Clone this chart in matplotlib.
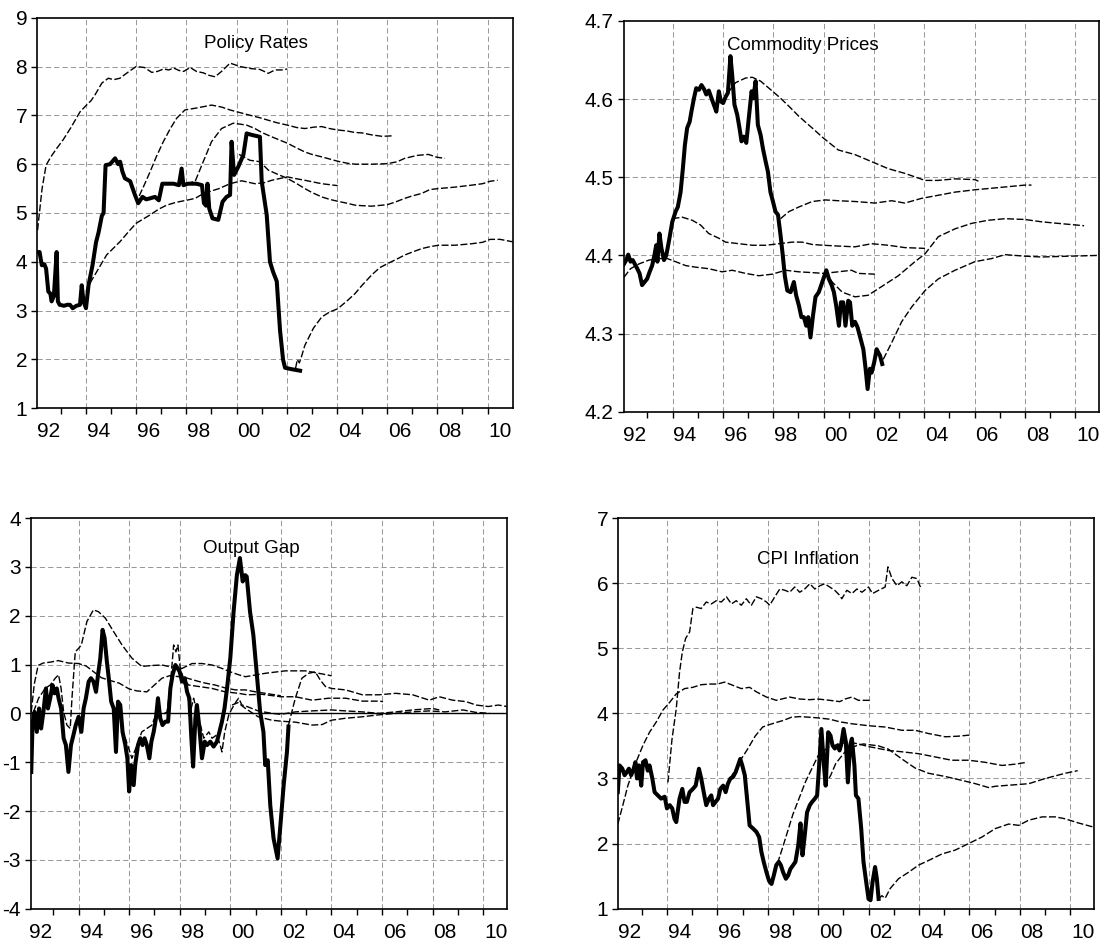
import matplotlib
matplotlib.use("Agg")
import matplotlib.pyplot as plt

plt.rcParams['font.family'] = ['Liberation Sans', 'DejaVu Sans']
plt.rcParams['axes.unicode_minus'] = False

# ---------------------------------------------------------------- data
year_labels = ["92", "94", "96", "98", "00", "02", "04", "06", "08", "10"]

# ---- Policy Rates
policy_actual = [
    (1992.05, 4.2), (1992.15, 4.2), (1992.24, 3.93), (1992.34, 3.95), (1992.41, 3.86), (1992.50, 3.39), (1992.58, 3.35),
    (1992.63, 3.19), (1992.72, 3.3), (1992.83, 4.2), (1992.88, 3.19), (1992.95, 3.12), (1993.12, 3.1), (1993.26, 3.12),
    (1993.36, 3.12), (1993.47, 3.05), (1993.62, 3.1), (1993.76, 3.12), (1993.83, 3.52), (1993.90, 3.19), (1994.00, 3.05),
    (1994.10, 3.52), (1994.26, 3.93), (1994.40, 4.4), (1994.50, 4.6), (1994.63, 4.94), (1994.70, 5.0), (1994.78, 5.98),
    (1994.96, 6.0), (1995.16, 6.12), (1995.28, 6.0), (1995.36, 6.05), (1995.45, 5.85), (1995.55, 5.71), (1995.76, 5.65),
    (1995.95, 5.37), (1996.08, 5.2), (1996.25, 5.33), (1996.40, 5.28), (1996.55, 5.3), (1996.75, 5.33), (1996.90, 5.26),
    (1997.04, 5.6), (1997.25, 5.6), (1997.49, 5.6), (1997.70, 5.57), (1997.81, 5.91), (1997.88, 5.57), (1998.07, 5.6),
    (1998.40, 5.6), (1998.62, 5.57), (1998.70, 5.2), (1998.78, 5.15), (1998.84, 5.6), (1998.91, 5.09), (1999.04, 4.89),
    (1999.27, 4.86), (1999.44, 5.23), (1999.60, 5.33), (1999.74, 5.37), (1999.80, 6.46), (1999.90, 5.78), (2000.07, 5.95),
    (2000.27, 6.19), (2000.40, 6.63), (2000.60, 6.6), (2000.93, 6.56), (2001.00, 5.65), (2001.20, 4.96), (2001.33, 4.0),
    (2001.45, 3.8), (2001.60, 3.6), (2001.73, 2.6), (2001.85, 2.0), (2001.93, 1.83), (2002.20, 1.8), (2002.53, 1.77)]
policy_fc_1992 = [
    (1992.07, 4.65), (1992.25, 5.5), (1992.41, 5.98), (1992.60, 6.15), (1992.83, 6.32), (1993.09, 6.5), (1993.40, 6.75),
    (1993.76, 7.07), (1994.00, 7.2), (1994.20, 7.3), (1994.36, 7.42), (1994.63, 7.66), (1994.89, 7.76), (1995.10, 7.73),
    (1995.35, 7.76), (1995.69, 7.89), (1996.00, 8.0), (1996.33, 7.98), (1996.62, 7.88), (1996.85, 7.9), (1997.09, 7.95),
    (1997.30, 7.93), (1997.49, 7.97), (1997.70, 7.92), (1997.89, 7.9), (1998.15, 7.98), (1998.40, 7.9), (1998.68, 7.87),
    (1998.90, 7.82), (1999.14, 7.79), (1999.40, 7.9), (1999.74, 8.07), (2000.14, 8.0), (2000.54, 7.96), (2000.93, 7.94),
    (2001.10, 7.9), (2001.26, 7.86), (2001.53, 7.93), (2001.80, 7.93), (2002.02, 7.95)]
policy_fc_1994 = [
    (1994.00, 3.39), (1994.20, 3.6), (1994.43, 3.8), (1994.82, 4.14), (1995.35, 4.41), (1995.70, 4.62), (1996.00, 4.79),
    (1996.55, 4.96), (1996.90, 5.08), (1997.21, 5.16), (1997.60, 5.22), (1998.00, 5.26), (1998.35, 5.3), (1998.68, 5.4),
    (1999.30, 5.5), (1999.74, 5.6), (2000.20, 5.66), (2000.73, 5.6), (2001.10, 5.62), (2001.40, 5.67), (2002.02, 5.74),
    (2002.40, 5.7), (2002.72, 5.67), (2003.39, 5.6), (2004.03, 5.56)]
policy_fc_1996 = [
    (1996.12, 5.35), (1996.30, 5.55), (1996.55, 5.84), (1996.80, 6.15), (1997.08, 6.46), (1997.35, 6.72), (1997.61, 6.94),
    (1997.94, 7.11), (1998.40, 7.15), (1998.70, 7.18), (1999.00, 7.21), (1999.40, 7.17), (1999.74, 7.11), (2000.40, 7.02),
    (2000.93, 6.95), (2001.26, 6.9), (2001.60, 6.85), (2002.02, 6.8), (2002.40, 6.75), (2002.72, 6.73), (2003.10, 6.76),
    (2003.39, 6.77), (2003.70, 6.73), (2004.03, 6.7), (2004.40, 6.68), (2004.70, 6.65), (2005.00, 6.64), (2005.38, 6.6),
    (2005.80, 6.57), (2006.18, 6.58)]
policy_fc_1998 = [
    (1998.00, 5.6), (1998.35, 5.65), (1998.67, 6.05), (1999.00, 6.46), (1999.40, 6.73), (1999.87, 6.84), (2000.40, 6.8),
    (2000.73, 6.73), (2001.00, 6.65), (2001.40, 6.56), (2002.02, 6.43), (2002.40, 6.33), (2002.72, 6.25), (2003.00, 6.2),
    (2003.39, 6.15), (2004.03, 6.06), (2004.40, 6.02), (2004.72, 6.0), (2005.38, 6.0), (2006.00, 6.01), (2006.40, 6.05),
    (2006.70, 6.12), (2007.20, 6.18), (2007.64, 6.2), (2008.00, 6.14), (2008.30, 6.12)]
policy_fc_2000 = [
    (2000.10, 6.2), (2000.53, 6.08), (2000.93, 6.05), (2001.26, 5.88), (2001.60, 5.8), (2002.02, 5.71), (2002.40, 5.6),
    (2002.72, 5.5), (2003.00, 5.42), (2003.39, 5.33), (2003.70, 5.28), (2004.03, 5.24), (2004.40, 5.2), (2004.72, 5.16),
    (2005.00, 5.15), (2005.38, 5.14), (2006.00, 5.17), (2006.30, 5.22), (2006.70, 5.3), (2007.00, 5.35), (2007.37, 5.4),
    (2007.70, 5.48), (2008.04, 5.5), (2008.70, 5.53), (2009.36, 5.57), (2009.80, 5.6), (2010.10, 5.65), (2010.40, 5.67)]
policy_fc_2002 = [
    (2002.35, 1.82), (2002.42, 2.0), (2002.50, 1.93), (2002.58, 2.05), (2002.72, 2.29), (2003.06, 2.64), (2003.39, 2.87),
    (2003.70, 2.97), (2004.03, 3.04), (2004.40, 3.2), (2004.72, 3.35), (2005.00, 3.52), (2005.38, 3.73), (2005.70, 3.88),
    (2006.04, 3.97), (2006.40, 4.06), (2006.70, 4.14), (2007.00, 4.2), (2007.37, 4.27), (2007.70, 4.31), (2008.04, 4.34),
    (2008.70, 4.34), (2009.36, 4.37), (2009.80, 4.4), (2010.10, 4.46), (2010.50, 4.46), (2011.00, 4.41)]

# ---- Commodity Prices
commodity_actual = [
    (1992.07, 4.389), (1992.16, 4.394), (1992.24, 4.401), (1992.33, 4.392), (1992.42, 4.394), (1992.50, 4.389),
    (1992.60, 4.383), (1992.69, 4.377), (1992.79, 4.362), (1992.89, 4.366), (1992.99, 4.370), (1993.09, 4.379),
    (1993.19, 4.387), (1993.28, 4.400), (1993.35, 4.413), (1993.40, 4.392), (1993.48, 4.428), (1993.56, 4.409),
    (1993.66, 4.394), (1993.75, 4.400), (1993.85, 4.417), (1993.99, 4.443), (1994.12, 4.456), (1994.21, 4.462),
    (1994.32, 4.481), (1994.41, 4.511), (1994.49, 4.541), (1994.58, 4.563), (1994.68, 4.571), (1994.75, 4.584),
    (1994.85, 4.601), (1994.94, 4.614), (1995.05, 4.612), (1995.15, 4.618), (1995.25, 4.613), (1995.34, 4.606),
    (1995.44, 4.611), (1995.55, 4.601), (1995.64, 4.593), (1995.74, 4.584), (1995.84, 4.610), (1995.92, 4.597),
    (1996.01, 4.595), (1996.11, 4.603), (1996.20, 4.608), (1996.30, 4.655), (1996.37, 4.631), (1996.46, 4.593),
    (1996.57, 4.580), (1996.66, 4.563), (1996.74, 4.546), (1996.83, 4.552), (1996.93, 4.544), (1997.03, 4.576),
    (1997.14, 4.610), (1997.21, 4.601), (1997.30, 4.623), (1997.39, 4.567), (1997.50, 4.554), (1997.59, 4.537),
    (1997.70, 4.520), (1997.79, 4.507), (1997.89, 4.481), (1997.99, 4.469), (1998.09, 4.456), (1998.19, 4.452),
    (1998.29, 4.426), (1998.38, 4.400), (1998.46, 4.374), (1998.56, 4.355), (1998.69, 4.353), (1998.82, 4.366),
    (1998.91, 4.349), (1999.02, 4.336), (1999.12, 4.321), (1999.22, 4.321), (1999.31, 4.310), (1999.39, 4.321),
    (1999.48, 4.295), (1999.58, 4.323), (1999.68, 4.347), (1999.81, 4.353), (1999.95, 4.366), (2000.11, 4.381),
    (2000.21, 4.370), (2000.32, 4.362), (2000.41, 4.353), (2000.50, 4.336), (2000.61, 4.310), (2000.69, 4.340),
    (2000.78, 4.340), (2000.87, 4.310), (2000.98, 4.342), (2001.05, 4.340), (2001.14, 4.310), (2001.25, 4.315),
    (2001.35, 4.308), (2001.44, 4.297), (2001.58, 4.280), (2001.67, 4.255), (2001.75, 4.229), (2001.84, 4.255),
    (2001.91, 4.250), (2002.01, 4.263), (2002.11, 4.280), (2002.17, 4.276), (2002.24, 4.272), (2002.33, 4.261)]
commodity_fc_1992 = [
    (1992.07, 4.372), (1992.33, 4.383), (1992.66, 4.389), (1993.06, 4.394), (1993.46, 4.396), (1993.79, 4.396),
    (1994.12, 4.392), (1994.52, 4.387), (1994.91, 4.385), (1995.44, 4.383), (1995.97, 4.379), (1996.37, 4.381),
    (1996.90, 4.377), (1997.43, 4.374), (1997.96, 4.376), (1998.49, 4.381), (1999.02, 4.379), (1999.55, 4.378),
    (2000.00, 4.377), (2000.58, 4.379), (2001.11, 4.381), (2001.38, 4.377), (2002.04, 4.376)]
commodity_fc_1994 = [
    (1994.00, 4.447), (1994.38, 4.449), (1994.78, 4.445), (1995.11, 4.439), (1995.44, 4.428), (1995.84, 4.422),
    (1996.11, 4.417), (1996.64, 4.415), (1997.17, 4.413), (1997.70, 4.413), (1998.23, 4.415), (1998.75, 4.417),
    (1999.15, 4.417), (1999.55, 4.414), (2000.00, 4.413), (2000.58, 4.412), (2001.25, 4.411), (2001.91, 4.415),
    (2002.57, 4.413), (2003.23, 4.410), (2004.03, 4.409)]
commodity_fc_1996 = [
    (1996.20, 4.608), (1996.50, 4.621), (1996.90, 4.627), (1997.17, 4.628), (1997.50, 4.623), (1997.83, 4.614),
    (1998.23, 4.603), (1998.62, 4.591), (1999.02, 4.578), (1999.55, 4.563), (2000.00, 4.550), (2000.58, 4.535),
    (2001.25, 4.529), (2001.91, 4.520), (2002.57, 4.511), (2003.23, 4.505), (2004.03, 4.496), (2004.56, 4.496),
    (2005.22, 4.498), (2006.01, 4.497), (2006.15, 4.495)]
commodity_fc_1998 = [
    (1998.29, 4.447), (1998.62, 4.456), (1999.02, 4.462), (1999.55, 4.469), (2000.08, 4.471), (2000.58, 4.470),
    (2001.25, 4.469), (2002.04, 4.467), (2002.70, 4.470), (2003.23, 4.467), (2003.89, 4.473), (2004.56, 4.477),
    (2005.22, 4.481), (2006.01, 4.484), (2006.68, 4.486), (2007.34, 4.488), (2008.00, 4.490), (2008.26, 4.490)]
commodity_fc_2000 = [
    (2000.08, 4.379), (2000.34, 4.366), (2000.74, 4.353), (2001.25, 4.347), (2001.77, 4.349), (2002.30, 4.360),
    (2002.97, 4.374), (2003.63, 4.392), (2004.03, 4.402), (2004.56, 4.424), (2005.22, 4.434), (2005.88, 4.441),
    (2006.54, 4.445), (2007.21, 4.447), (2008.00, 4.446), (2008.66, 4.443), (2009.32, 4.441), (2010.35, 4.438)]
commodity_fc_2002 = [
    (2002.37, 4.267), (2002.70, 4.288), (2003.10, 4.315), (2003.50, 4.334), (2004.03, 4.355), (2004.56, 4.370),
    (2005.22, 4.381), (2006.01, 4.392), (2006.68, 4.396), (2007.21, 4.401), (2008.00, 4.399), (2008.66, 4.398),
    (2009.72, 4.399), (2010.93, 4.400)]

# ---- Output Gap
og_actual = [
    (1992.13, -1.2), (1992.18, -0.24), (1992.26, 0.03), (1992.35, -0.38), (1992.44, 0.1), (1992.52, -0.31), (1992.61, 0.03),
    (1992.71, 0.51), (1992.79, 0.1), (1992.88, 0.31), (1992.97, 0.58), (1993.05, 0.41), (1993.14, 0.51), (1993.21, 0.31),
    (1993.31, 0.1), (1993.41, -0.51), (1993.50, -0.65), (1993.60, -1.2), (1993.70, -0.65), (1993.80, -0.44), (1993.89, -0.24),
    (1994.00, -0.07), (1994.11, -0.38), (1994.20, 0.1), (1994.29, 0.31), (1994.40, 0.65), (1994.49, 0.72), (1994.59, 0.65),
    (1994.69, 0.44), (1994.77, 0.79), (1994.86, 1.13), (1994.95, 1.71), (1995.03, 1.54), (1995.12, 1.06), (1995.21, 0.65),
    (1995.29, 0.24), (1995.39, 0.1), (1995.48, -0.79), (1995.56, 0.24), (1995.65, 0.17), (1995.74, -0.38), (1995.85, -0.65),
    (1995.93, -0.92), (1996.00, -1.6), (1996.08, -1.06), (1996.18, -1.47), (1996.24, -1.06), (1996.35, -0.65),
    (1996.44, -0.51), (1996.53, -0.65), (1996.61, -0.51), (1996.70, -0.65), (1996.80, -0.92), (1996.88, -0.58),
    (1996.97, -0.38), (1997.06, -0.1), (1997.14, 0.31), (1997.23, -0.1), (1997.32, -0.24), (1997.43, -0.17),
    (1997.54, -0.17), (1997.63, 0.51), (1997.72, 0.79), (1997.83, 0.99), (1997.92, 0.92), (1998.00, 0.85), (1998.09, 0.65),
    (1998.20, 0.72), (1998.29, 0.44), (1998.38, 0.31), (1998.46, -0.51), (1998.53, -1.09), (1998.62, -0.1), (1998.68, 0.17),
    (1998.78, -0.31), (1998.88, -0.92), (1998.99, -0.58), (1999.08, -0.65), (1999.21, -0.58), (1999.34, -0.68),
    (1999.47, -0.58), (1999.57, -0.38), (1999.67, -0.17), (1999.77, 0.1), (1999.87, 0.51), (2000.00, 1.13), (2000.13, 2.08),
    (2000.26, 2.83), (2000.38, 3.18), (2000.49, 2.7), (2000.59, 2.83), (2000.65, 2.8), (2000.78, 2.08), (2000.91, 1.61),
    (2001.05, 0.79), (2001.18, 0.03), (2001.31, -0.38), (2001.38, -1.06), (2001.48, -0.96), (2001.58, -1.88),
    (2001.71, -2.56), (2001.87, -2.97), (2001.97, -2.36), (2002.11, -1.47), (2002.24, -0.79), (2002.30, -0.27)]
og_fc_1992 = [
    (1992.13, 0.03), (1992.25, 0.6), (1992.40, 0.98), (1992.60, 1.03), (1992.90, 1.05), (1993.20, 1.08), (1993.60, 1.03),
    (1994.00, 1.02), (1994.30, 0.97), (1994.60, 0.85), (1994.90, 0.73), (1995.20, 0.68), (1995.60, 0.62), (1996.00, 0.5),
    (1996.30, 0.46), (1996.70, 0.44), (1997.00, 0.58), (1997.30, 0.72), (1997.60, 0.77), (1998.00, 0.75), (1998.30, 0.72),
    (1998.70, 0.66), (1999.00, 0.62), (1999.40, 0.58), (1999.80, 0.52), (2000.20, 0.48), (2000.60, 0.48), (2001.00, 0.44),
    (2001.50, 0.4), (2002.00, 0.36)]
og_fc_1994 = [
    (1992.22, 0.03), (1992.42, 0.31), (1992.68, 0.51), (1992.88, 0.58), (1993.08, 0.72), (1993.21, 0.79), (1993.31, 0.51),
    (1993.41, 0.03), (1993.54, -0.24), (1993.67, -0.31), (1993.74, 0.31), (1993.87, 1.26), (1994.00, 1.33), (1994.11, 1.4),
    (1994.33, 1.88), (1994.59, 2.12), (1994.79, 2.08), (1995.06, 1.95), (1995.39, 1.67), (1995.72, 1.4), (1996.11, 1.13),
    (1996.50, 0.96), (1996.90, 0.98), (1997.30, 0.99), (1997.56, 0.96), (1998.09, 0.92), (1998.49, 1.02), (1998.88, 1.02),
    (1999.28, 0.99), (1999.67, 0.92), (2000.00, 0.85), (2000.33, 0.79), (2000.60, 0.75), (2001.38, 0.82), (2002.17, 0.87),
    (2002.97, 0.87), (2003.50, 0.82), (2004.00, 0.77)]
og_fc_1996 = [
    (1995.70, -0.3), (1995.85, -0.51), (1996.11, -0.92), (1996.31, -0.65), (1996.50, -0.38), (1996.70, -0.31),
    (1996.90, -0.24), (1997.10, 0.03), (1997.30, -0.03), (1997.50, 0.03), (1997.63, 0.58), (1997.76, 1.4), (1997.85, 1.26),
    (1997.93, 1.4), (1998.02, 0.92), (1998.15, 0.72), (1998.35, 0.58), (1998.75, 0.55), (1999.28, 0.51), (1999.80, 0.44),
    (2000.33, 0.41), (2000.66, 0.38), (2001.25, 0.39), (2002.00, 0.34), (2002.57, 0.34), (2003.23, 0.27), (2003.89, 0.31),
    (2004.56, 0.31), (2005.22, 0.25), (2005.88, 0.25), (2006.04, 0.24)]
og_fc_1998 = [
    (1998.09, 0.72), (1998.29, 0.44), (1998.42, 0.03), (1998.55, 0.31), (1998.68, 0.03), (1998.82, -0.24), (1998.95, -0.51),
    (1999.15, -0.38), (1999.28, -0.51), (1999.47, -0.44), (1999.60, -0.65), (1999.67, -0.79), (1999.78, -0.38),
    (1999.94, -0.03), (2000.07, 0.1), (2000.23, 0.24), (2000.33, 0.31), (2000.46, 0.17), (2000.66, 0.14), (2001.10, 0.05),
    (2001.64, 0.0), (2002.00, -0.02), (2002.57, 0.03), (2003.23, 0.05), (2004.00, 0.07), (2004.56, 0.05), (2005.22, 0.03),
    (2005.88, 0.0), (2006.54, 0.03), (2007.21, 0.07), (2008.00, 0.1), (2008.26, 0.07)]
og_fc_2000 = [
    (2000.07, 0.17), (2000.30, 0.22), (2000.60, 0.1), (2001.10, -0.07), (2001.64, -0.14), (2002.00, -0.16), (2002.57, -0.18),
    (2003.23, -0.24), (2003.63, -0.23), (2004.00, -0.14), (2004.56, -0.1), (2005.22, -0.07), (2005.88, -0.03),
    (2006.54, 0.0), (2007.21, 0.03), (2007.87, 0.05), (2008.50, 0.03), (2009.20, 0.07), (2009.70, 0.02), (2010.25, 0.0)]
og_fc_2002 = [
    (2002.30, -0.24), (2002.57, 0.31), (2002.83, 0.72), (2003.10, 0.82), (2003.36, 0.85), (2003.56, 0.68), (2003.76, 0.55),
    (2004.00, 0.51), (2004.56, 0.48), (2005.22, 0.38), (2005.88, 0.38), (2006.54, 0.41), (2007.21, 0.38), (2007.87, 0.27),
    (2008.26, 0.34), (2008.79, 0.27), (2009.32, 0.24), (2009.72, 0.17), (2010.20, 0.14), (2010.60, 0.17), (2010.94, 0.14)]

# ---- CPI Inflation
cpi_actual = [
    (1992.05, 2.79), (1992.12, 3.2), (1992.23, 3.15), (1992.32, 3.05), (1992.41, 3.1), (1992.49, 3.15), (1992.58, 3.05),
    (1992.68, 3.15), (1992.75, 3.25), (1992.81, 3.0), (1992.89, 3.2), (1992.98, 2.89), (1993.05, 3.25), (1993.15, 3.28),
    (1993.24, 3.12), (1993.31, 3.2), (1993.42, 3.0), (1993.51, 2.79), (1993.64, 2.74), (1993.77, 2.69), (1993.91, 2.72),
    (1994.00, 2.54), (1994.11, 2.59), (1994.21, 2.54), (1994.30, 2.38), (1994.37, 2.33), (1994.50, 2.69), (1994.61, 2.84),
    (1994.70, 2.64), (1994.79, 2.64), (1994.90, 2.79), (1995.03, 2.84), (1995.14, 2.89), (1995.27, 3.15), (1995.36, 3.0),
    (1995.46, 2.79), (1995.56, 2.59), (1995.67, 2.69), (1995.76, 2.74), (1995.83, 2.59), (1995.93, 2.64), (1996.03, 2.69),
    (1996.12, 2.84), (1996.23, 2.89), (1996.33, 2.79), (1996.42, 2.92), (1996.52, 3.0), (1996.62, 3.02), (1996.73, 3.1),
    (1996.82, 3.2), (1996.91, 3.3), (1996.99, 3.2), (1997.09, 3.05), (1997.18, 2.69), (1997.28, 2.28), (1997.42, 2.23),
    (1997.55, 2.18), (1997.66, 2.1), (1997.75, 1.87), (1997.84, 1.72), (1997.95, 1.56), (1998.05, 1.43), (1998.15, 1.38),
    (1998.24, 1.51), (1998.34, 1.67), (1998.44, 1.72), (1998.52, 1.67), (1998.61, 1.56), (1998.72, 1.46), (1998.81, 1.51),
    (1998.90, 1.61), (1999.01, 1.67), (1999.10, 1.72), (1999.21, 1.97), (1999.30, 2.31), (1999.38, 1.82), (1999.47, 2.13),
    (1999.56, 2.48), (1999.67, 2.59), (1999.76, 2.64), (1999.87, 2.69), (1999.96, 2.74), (2000.04, 3.2), (2000.13, 3.76),
    (2000.23, 3.2), (2000.30, 2.89), (2000.40, 3.71), (2000.49, 3.66), (2000.57, 3.51), (2000.66, 3.46), (2000.78, 3.51),
    (2000.85, 3.43), (2000.91, 3.51), (2001.01, 3.76), (2001.10, 3.56), (2001.18, 2.94), (2001.27, 3.51), (2001.34, 3.61),
    (2001.44, 3.2), (2001.50, 2.74), (2001.60, 2.69), (2001.71, 2.23), (2001.80, 1.72), (2001.89, 1.46), (2002.00, 1.15),
    (2002.08, 1.13), (2002.16, 1.41), (2002.26, 1.64), (2002.33, 1.46), (2002.40, 1.15)]
cpi_fc_1992 = [
    (1992.05, 2.3), (1992.25, 2.59), (1992.45, 2.89), (1992.72, 3.2), (1993.05, 3.51), (1993.31, 3.71), (1993.58, 3.87),
    (1993.84, 4.05), (1994.11, 4.17), (1994.37, 4.3), (1994.70, 4.38), (1995.03, 4.4), (1995.36, 4.44), (1995.70, 4.45),
    (1996.00, 4.45), (1996.29, 4.48), (1996.62, 4.43), (1996.95, 4.38), (1997.28, 4.4), (1997.55, 4.33), (1997.95, 4.25),
    (1998.34, 4.2), (1998.87, 4.25), (1999.27, 4.22), (1999.67, 4.21), (2000.00, 4.22), (2000.46, 4.2), (2000.86, 4.18),
    (2001.07, 4.22), (2001.34, 4.25), (2001.60, 4.2), (2002.07, 4.2)]
cpi_fc_1994 = [
    (1994.04, 2.94), (1994.20, 3.6), (1994.37, 4.07), (1994.50, 4.63), (1994.61, 4.94), (1994.74, 5.15), (1994.90, 5.25),
    (1995.03, 5.61), (1995.17, 5.63), (1995.36, 5.61), (1995.56, 5.71), (1995.76, 5.68), (1995.96, 5.73), (1996.16, 5.71),
    (1996.36, 5.79), (1996.56, 5.68), (1996.75, 5.73), (1996.95, 5.66), (1997.15, 5.76), (1997.35, 5.66), (1997.55, 5.79),
    (1997.75, 5.76), (1997.95, 5.71), (1998.08, 5.66), (1998.28, 5.79), (1998.48, 5.91), (1998.68, 5.89), (1998.87, 5.86),
    (1999.07, 5.94), (1999.27, 5.86), (1999.47, 5.91), (1999.67, 5.99), (1999.87, 5.91), (2000.07, 5.96), (2000.26, 5.99),
    (2000.46, 5.94), (2000.66, 5.89), (2000.86, 5.81), (2000.94, 5.76), (2001.14, 5.89), (2001.34, 5.84), (2001.54, 5.91),
    (2001.74, 5.86), (2002.00, 5.94), (2002.16, 5.84), (2002.40, 5.89), (2002.66, 5.94), (2002.77, 6.25), (2002.93, 6.07),
    (2003.13, 5.96), (2003.32, 6.02), (2003.52, 5.96), (2003.72, 6.09), (2003.92, 6.07), (2004.09, 5.91)]
cpi_fc_1996 = [
    (1996.50, 3.0), (1996.75, 3.15), (1996.95, 3.3), (1997.20, 3.45), (1997.50, 3.65), (1997.80, 3.79), (1998.01, 3.82),
    (1998.34, 3.86), (1998.61, 3.89), (1998.94, 3.94), (1999.27, 3.95), (1999.67, 3.94), (2000.00, 3.93), (2000.46, 3.91),
    (2000.86, 3.87), (2001.34, 3.84), (2002.00, 3.81), (2002.66, 3.79), (2003.32, 3.74), (2003.85, 3.74), (2004.38, 3.69),
    (2005.05, 3.64), (2005.58, 3.65), (2006.10, 3.67)]
cpi_fc_1998 = [
    (1998.15, 1.42), (1998.35, 1.65), (1998.60, 1.95), (1999.00, 2.45), (1999.50, 2.95), (2000.00, 3.35), (2000.40, 3.48),
    (2000.85, 3.53), (2001.20, 3.56), (2001.60, 3.53), (2002.00, 3.49), (2002.40, 3.46), (2002.79, 3.43), (2003.32, 3.41),
    (2004.00, 3.38), (2004.65, 3.33), (2005.30, 3.28), (2005.97, 3.28), (2006.60, 3.25), (2007.30, 3.2), (2007.83, 3.22),
    (2008.30, 3.25)]
cpi_fc_2000 = [
    (2000.25, 2.88), (2000.50, 3.05), (2000.70, 3.23), (2001.13, 3.44), (2001.56, 3.51), (2001.80, 3.53), (2002.00, 3.52),
    (2002.40, 3.5), (2002.79, 3.45), (2003.32, 3.3), (2003.85, 3.16), (2004.38, 3.08), (2005.05, 3.03), (2005.71, 2.97),
    (2006.24, 2.92), (2006.77, 2.86), (2007.03, 2.88), (2007.70, 2.9), (2008.36, 2.92), (2009.02, 3.0), (2009.81, 3.08),
    (2010.30, 3.12)]
cpi_fc_2002 = [
    (2002.40, 1.15), (2002.53, 1.2), (2002.66, 1.16), (2002.86, 1.31), (2003.19, 1.46), (2003.59, 1.56), (2003.99, 1.67),
    (2004.38, 1.74), (2004.91, 1.84), (2005.44, 1.9), (2005.97, 2.0), (2006.50, 2.1), (2007.03, 2.23), (2007.56, 2.3),
    (2007.96, 2.28), (2008.36, 2.36), (2008.89, 2.41), (2009.42, 2.41), (2009.81, 2.38), (2010.30, 2.32), (2010.96, 2.25)]

# ---------------------------------------------------------------- figure
W, H = 1113, 944
fig = plt.figure(figsize=(W / 100, H / 100), dpi=100)


def px_axes(left, right, top, bottom):
    return fig.add_axes([left / W, 1 - bottom / H, (right - left) / W, (bottom - top) / H])


GRID_KW = dict(color='#9a9a9a', lw=0.75, ls=(0, (5, 3)), zorder=1)
FC_KW = dict(color='black', lw=1.0, ls=(0, (5, 1.8)), zorder=3)
ACT_KW = dict(color='black', lw=2.9, zorder=4, solid_joinstyle='round')


def draw_panel(ax, actual, forecasts, xlim, ylim, yticks, ylabels, title, tx, ty, zero_line=False):
    for y in yticks[1:-1]:
        if zero_line and y == 0:
            continue
        ax.axhline(y, **GRID_KW)
    for yr in range(1994, 2011, 2):
        ax.axvline(yr, **GRID_KW)
    if zero_line:
        ax.axhline(0, color='black', lw=1.0, zorder=2)
    for fc in forecasts:
        t, v = zip(*fc)
        ax.plot(t, v, **FC_KW)
    t, v = zip(*actual)
    ax.plot(t, v, **ACT_KW)

    ax.set_xlim(*xlim)
    ax.set_ylim(*ylim)
    ax.set_yticks(yticks)
    ax.set_yticklabels(ylabels)
    ax.set_xticks(list(range(1993, 2011)))
    ax.set_xticklabels([])
    ax.set_xticks([y + 0.5 for y in range(1992, 2011, 2)], minor=True)
    ax.set_xticklabels(year_labels, minor=True)
    ax.tick_params(axis='x', which='major', direction='out', length=4.3, width=1.0)
    ax.tick_params(axis='x', which='minor', length=0, pad=10, labelsize=15)
    ax.tick_params(axis='y', which='major', direction='out', length=4.3, width=1.0, pad=3, labelsize=15)
    for s in ax.spines.values():
        s.set_linewidth(1.2)
    ax.text(tx, ty, title, transform=ax.transAxes, ha='center', va='baseline', fontsize=13.5)


ax1 = px_axes(37.3, 512.7, 17.7, 408.3)
draw_panel(ax1, policy_actual,
           [policy_fc_1992, policy_fc_1994, policy_fc_1996, policy_fc_1998, policy_fc_2000, policy_fc_2002],
           (1992.06, 2011.0), (1, 9), [1, 2, 3, 4, 5, 6, 7, 8, 9],
           ["1", "2", "3", "4", "5", "6", "7", "8", "9"], "Policy Rates", 0.46, 0.922)

ax2 = px_axes(623.7, 1098.7, 21.0, 411.7)
draw_panel(ax2, commodity_actual,
           [commodity_fc_1992, commodity_fc_1994, commodity_fc_1996, commodity_fc_1998, commodity_fc_2000,
            commodity_fc_2002],
           (1992.06, 2010.93), (4.2, 4.7), [4.2, 4.3, 4.4, 4.5, 4.6, 4.7],
           ["4.2", "4.3", "4.4", "4.5", "4.6", "4.7"], "Commodity Prices", 0.377, 0.926)

ax3 = px_axes(31.0, 507.0, 518.0, 908.7)
draw_panel(ax3, og_actual,
           [og_fc_1992, og_fc_1994, og_fc_1996, og_fc_1998, og_fc_2000, og_fc_2002],
           (1992.12, 2010.94), (-4, 4), [-4, -3, -2, -1, 0, 1, 2, 3, 4],
           ["-4", "-3", "-2", "-1", "0", "1", "2", "3", "4"], "Output Gap", 0.4635, 0.911, zero_line=True)

ax4 = px_axes(618.3, 1094.3, 518.0, 908.7)
draw_panel(ax4, cpi_actual,
           [cpi_fc_1992, cpi_fc_1994, cpi_fc_1996, cpi_fc_1998, cpi_fc_2000, cpi_fc_2002],
           (1992.07, 2010.96), (1, 7), [1, 2, 3, 4, 5, 6, 7],
           ["1", "2", "3", "4", "5", "6", "7"], "CPI Inflation", 0.398, 0.883)

fig.savefig("out.png", dpi=100, facecolor='white')
